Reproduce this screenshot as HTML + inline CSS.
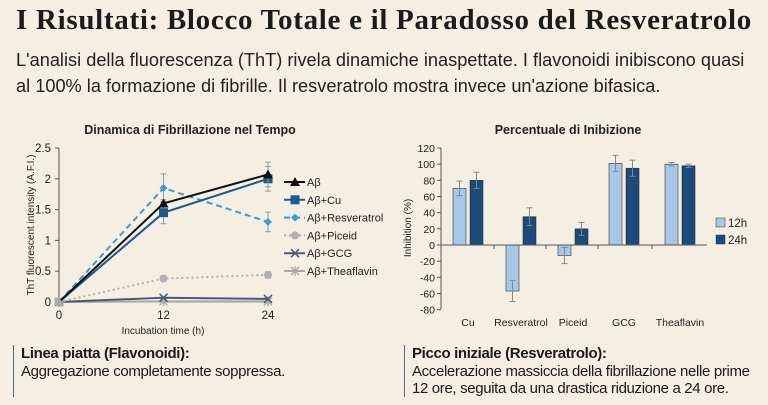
<!DOCTYPE html>
<html><head><meta charset="utf-8"><style>
body{margin:0;width:768px;height:405px;background:#f4efe2;overflow:hidden;font-family:"Liberation Sans",sans-serif;color:#1a1a1a;position:relative}
.t{position:absolute;white-space:nowrap}
#title{left:16px;top:4px;font-family:"Liberation Serif",serif;font-weight:bold;font-size:29px;letter-spacing:0.7px;color:#1b1b1b}
#sub{left:16px;top:47px;font-size:18.2px;line-height:26px;color:#222}
.note{position:absolute;top:345px;height:52px;border-left:1.5px solid #4a6a8a;padding-left:7px;font-size:15px;line-height:17.5px;letter-spacing:-0.35px}
.note b{display:block}
svg{position:absolute;left:0;top:0}
</style></head><body>
<div class="t" id="title">I Risultati: Blocco Totale e il Paradosso del Resveratrolo</div>
<div class="t" id="sub">L'analisi della fluorescenza (ThT) rivela dinamiche inaspettate. I flavonoidi inibiscono quasi<br>al 100% la formazione di fibrille. Il resveratrolo mostra invece un'azione bifasica.</div>
<div class="note" style="left:13px"><b>Linea piatta (Flavonoidi):</b>Aggregazione completamente soppressa.</div>
<div class="note" style="left:404px"><b>Picco iniziale (Resveratrolo):</b>Accelerazione massiccia della fibrillazione nelle prime<br>12 ore, seguita da una drastica riduzione a 24 ore.</div>
<svg id="c" width="768" height="405" font-family="Liberation Sans, sans-serif"></svg>
<script>
const times=[0,12,24];
const lineNames=["Aβ","Aβ+Cu","Aβ+Resveratrol","Aβ+Piceid","Aβ+GCG","Aβ+Theaflavin"];
const abVals=[0,1.6,2.07];
const cuVals=[0,1.45,2.0];
const resVals=[0,1.85,1.3];
const picVals=[0,0.38,0.44];
const gcgVals=[0,0.07,0.05];
const thfVals=[0,0.01,0.01];
const abErr=[0,0.06,0.2];
const cuErr=[0,0.18,0.2];
const resErr=[0,0.23,0.16];
const picErr=[0,0.04,0.05];
const gcgErr=[0,0.02,0.02];
const thfErr=[0,0.01,0.01];
const yTicks=[0,0.5,1,1.5,2,2.5];
const yTickLabels=["0","0.5","1","1.5","2","2.5"];
const cats=["Cu","Resveratrol","Piceid","GCG","Theaflavin"];
const v12=[70,-57,-13,101,100];
const v24=[80,35,20,95,98];
const e12=[9,13,10,10,2];
const e24=[10,11,8,10,2];
const barTicks=[-80,-60,-40,-20,0,20,40,60,80,100,120];
const NS="http://www.w3.org/2000/svg";
const svg=document.getElementById('c');
function mk(t,a,p){const e=document.createElementNS(NS,t);for(const k in a)e.setAttribute(k,a[k]);(p||svg).appendChild(e);return e;}
function txt(x,y,s,a,p){const e=mk('text',Object.assign({x:x,y:y,'font-size':11,fill:'#222'},a||{}),p);e.textContent=s;return e;}
// line chart
const lx=t=>59+t*(268-59)/24, ly=v=>302-v*(302-148)/2.5;
const gL=mk('g',{});


let t1=txt(190,134,"Dinamica di Fibrillazione nel Tempo",{'text-anchor':'middle','font-size':12.5,'font-weight':'bold'},gL);


mk('line',{x1:59,y1:148,x2:59,y2:302,stroke:'#555'},gL);
mk('line',{x1:59,y1:302,x2:272,y2:302,stroke:'#555'},gL);
yTicks.forEach((v,i)=>{mk('line',{x1:55,x2:59,y1:ly(v),y2:ly(v),stroke:'#555'},gL);txt(51,ly(v)+4,yTickLabels[i],{'text-anchor':'end','font-size':11.5},gL);});
times.forEach(t=>{mk('line',{x1:lx(t),x2:lx(t),y1:302,y2:306,stroke:'#555'},gL);txt(lx(t),319,String(t),{'text-anchor':'middle','font-size':11.5},gL);});
txt(163,334,"Incubation time (h)",{'text-anchor':'middle','font-size':10},gL);
txt(0,0,"ThT fluorescent intensity (A.F.I.)",{'text-anchor':'middle','font-size':10,transform:'translate(34,225) rotate(-90)'},gL);
const series=[[abVals,abErr,'#111','', 'tri'],[cuVals,cuErr,'#1f5a8c','','sq'],[resVals,resErr,'#3d9ad6','6,4','dia'],[picVals,picErr,'#b0b0b0','2,3','circ'],[gcgVals,gcgErr,'#4b5878','','x'],[thfVals,thfErr,'#a8a8a8','','star']];
function marker(k,x,y,c,g){
 if(k=='tri')mk('path',{d:`M${x},${y-5}L${x+5},${y+4}L${x-5},${y+4}Z`,fill:c},g);
 else if(k=='sq')mk('rect',{x:x-4.5,y:y-4.5,width:9,height:9,fill:c},g);
 else if(k=='dia')mk('path',{d:`M${x},${y-4}L${x+4},${y}L${x},${y+4}L${x-4},${y}Z`,fill:c},g);
 else if(k=='circ')mk('circle',{cx:x,cy:y,r:4,fill:c},g);
 else if(k=='x'){mk('path',{d:`M${x-4},${y-4}L${x+4},${y+4}M${x-4},${y+4}L${x+4},${y-4}`,stroke:c,'stroke-width':1.5},g);}
 else {mk('path',{d:`M${x-4},${y-4}L${x+4},${y+4}M${x-4},${y+4}L${x+4},${y-4}M${x},${y-5}L${x},${y+5}`,stroke:c,'stroke-width':1.3},g);}
}
series.slice().reverse().forEach((s,ri)=>{
 const i=series.length-1-ri;
 const g=mk('g',{},gL);
 
 
 const [vals,errs,c,dash,mkK]=s;
 times.forEach((t,j)=>{if(errs[j]>0.03){mk('line',{x1:lx(t),x2:lx(t),y1:ly(vals[j]-errs[j]),y2:ly(vals[j]+errs[j]),stroke:'#999'},g);mk('line',{x1:lx(t)-3,x2:lx(t)+3,y1:ly(vals[j]+errs[j]),y2:ly(vals[j]+errs[j]),stroke:'#999'},g);mk('line',{x1:lx(t)-3,x2:lx(t)+3,y1:ly(vals[j]-errs[j]),y2:ly(vals[j]-errs[j]),stroke:'#999'},g);}});
 mk('polyline',{points:times.map((t,j)=>lx(t)+','+ly(vals[j])).join(' '),fill:'none',stroke:c,'stroke-width':2,'stroke-dasharray':dash},g);
 times.forEach((t,j)=>marker(mkK,lx(t),ly(vals[j]),j==0?'#aaa':c,g));
 const ly0=182+i*17.8;
 const lg=mk('g',{},gL);
 
 
 mk('line',{x1:284,x2:305,y1:ly0,y2:ly0,stroke:c,'stroke-width':2,'stroke-dasharray':dash},lg);
 marker(mkK,295,ly0,c,lg);
 txt(307,ly0+4,lineNames[i],{'font-size':11},lg);
});
// bar chart
const bx0=441,bx1=707;
const by=v=>245-v*(245-148)/120;
const gB=mk('g',{});


let t2=txt(568,134,"Percentuale di Inibizione",{'text-anchor':'middle','font-size':12.5,'font-weight':'bold'},gB);


mk('line',{x1:bx0,y1:148,x2:bx0,y2:309,stroke:'#555'},gB);
barTicks.forEach(v=>{mk('line',{x1:bx0-4,x2:bx0,y1:by(v),y2:by(v),stroke:'#555'},gB);txt(bx0-6,by(v)+4,String(v),{'text-anchor':'end','font-size':10.5},gB);});
txt(0,0,"Inhibition (%)",{'text-anchor':'middle','font-size':10,transform:'translate(411,228) rotate(-90)'},gB);
const centers=[468,521,573,624,680];
cats.forEach((c,i)=>{
 const cx=centers[i];
 [[v12,e12,'#a7c8e8',-15],[v24,e24,'#1c4a7a',2]].forEach(([vs,es,col,off],k)=>{
  const v=vs[i];const r=mk('rect',{x:cx+off,y:Math.min(by(v),by(0)),width:13,height:Math.abs(by(v)-by(0)),fill:col,stroke:'#333','stroke-width':0.6},gB);
  
  
  const ex=cx+off+6.5;
  mk('line',{x1:ex,x2:ex,y1:by(v-es[i]),y2:by(v+es[i]),stroke:'#888'},gB);
  mk('line',{x1:ex-3,x2:ex+3,y1:by(v-es[i]),y2:by(v-es[i]),stroke:'#888'},gB);
  mk('line',{x1:ex-3,x2:ex+3,y1:by(v+es[i]),y2:by(v+es[i]),stroke:'#888'},gB);
 });
 txt(cx,326,c,{'text-anchor':'middle','font-size':10.5},gB);
});
mk('line',{x1:bx0,y1:by(0),x2:bx1,y2:by(0),stroke:'#555'},gB);
[494,546,598,652].forEach(x=>mk('line',{x1:x,x2:x,y1:by(0),y2:by(0)+4,stroke:'#555'},gB));
[['12h','#a7c8e8',223],['24h','#1c4a7a',240]].forEach(([l,c,y])=>{const g=mk('g',{},gB);mk('rect',{x:716,y:y-5,width:9,height:9,fill:c,stroke:'#333','stroke-width':0.5},g);txt(728,y+4,l,{'font-size':11.5},g);});
</script>
</body></html>
